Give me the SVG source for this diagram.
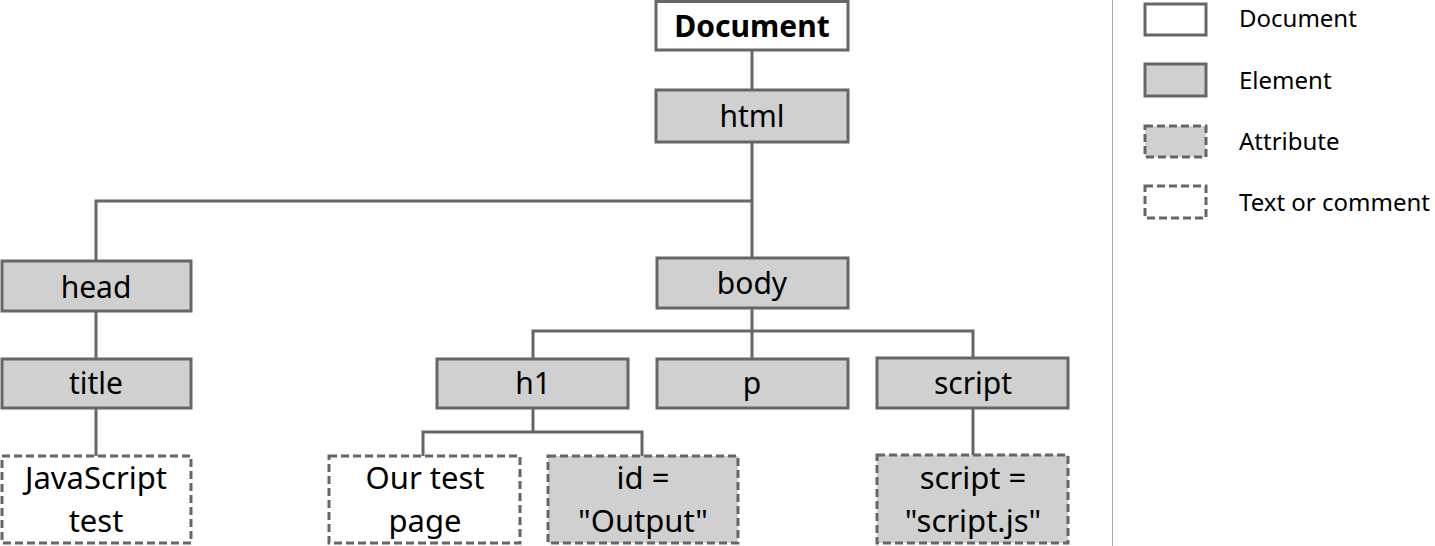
<svg xmlns="http://www.w3.org/2000/svg" width="1435" height="546" viewBox="0 0 1435 546">
<style>
.doc{fill:#fff;stroke:#666;stroke-width:3}
.el{fill:#d0d0d0;stroke:#666;stroke-width:3}
.attr{fill:#d0d0d0;stroke:#666;stroke-width:3;stroke-dasharray:8 4}
.txt{fill:#fff;stroke:#666;stroke-width:3;stroke-dasharray:8 4}
text{font-family:"Noto Sans","Open Sans","Liberation Sans",sans-serif;fill:#000;text-anchor:middle}
.t{font-size:30px}
.t2{font-size:31px}
.b{font-size:30px;font-weight:bold}
.lg{font-size:24px;text-anchor:start}
#connectors{fill:none;stroke:#666;stroke-width:3}
</style>
<rect width="1435" height="546" fill="#fff"/>
<g id="connectors">
<path d="M752,50V90"/>
<path d="M752,142V258M752,201H96V261"/>
<path d="M96,311V359"/>
<path d="M96,408V456"/>
<path d="M752,308V359M533,359V331H973V358"/>
<path d="M533,408V432M423,456V432H642V456"/>
<path d="M973,408V455"/>
</g>
<g id="document"><rect class="doc" x="656" y="1.5" width="192" height="48.5"/><text class="b" x="752" y="37">Document</text></g>
<g id="html"><rect class="el" x="656" y="90" width="192" height="52"/><text class="t" x="752" y="127">html</text></g>
<g id="head"><rect class="el" x="2" y="261" width="189" height="50"/><text class="t" x="96" y="298">head</text></g>
<g id="body"><rect class="el" x="657" y="258" width="191" height="50"/><text class="t" x="752" y="294">body</text></g>
<g id="title"><rect class="el" x="2" y="359" width="189" height="49"/><text class="t" x="96" y="394">title</text></g>
<g id="h1"><rect class="el" x="437" y="359" width="191" height="49"/><text class="t" x="533" y="394">h1</text></g>
<g id="p"><rect class="el" x="657" y="359" width="191" height="49"/><text class="t" x="752" y="394">p</text></g>
<g id="script"><rect class="el" x="877" y="358" width="191" height="50"/><text class="t" x="973" y="394">script</text></g>
<g id="jstext"><rect class="txt" x="2" y="456" width="189" height="87"/><text class="t2" x="96" y="489">JavaScript</text><text class="t2" x="96" y="532">test</text></g>
<g id="ourtext"><rect class="txt" x="329" y="456" width="191" height="87"/><text class="t2" x="425" y="489">Our test</text><text class="t2" x="425" y="532">page</text></g>
<g id="idattr"><rect class="attr" x="548" y="456" width="190" height="87"/><text class="t2" x="643" y="489">id =</text><text class="t2" x="643" y="532">"Output"</text></g>
<g id="scriptattr"><rect class="attr" x="877" y="455" width="191" height="88"/><text class="t2" x="973" y="489">script =</text><text class="t2" x="973" y="532">"script.js"</text></g>
<g id="legend">
<line x1="1112.5" y1="0" x2="1112.5" y2="546" stroke="#aaa" stroke-width="1"/>
<rect class="doc" x="1145" y="4" width="61" height="31"/><text class="lg" x="1239" y="27">Document</text>
<rect class="el" x="1145" y="64" width="61" height="32"/><text class="lg" x="1239" y="89">Element</text>
<rect class="attr" x="1145" y="126" width="61" height="31"/><text class="lg" x="1239" y="150">Attribute</text>
<rect class="txt" x="1145" y="186" width="61" height="32"/><text class="lg" x="1239" y="211">Text or comment</text>
</g>
</svg>
